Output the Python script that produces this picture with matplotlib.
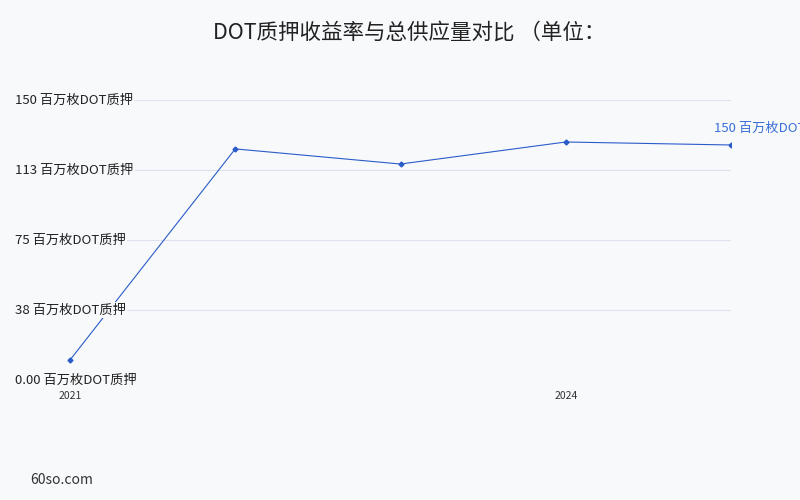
"""Recreate the DOT staking line chart."""

import matplotlib.pyplot as plt

plt.rcParams["font.family"] = ["Noto Sans CJK SC", "DejaVu Sans"]

YEARS = [2021, 2022, 2023, 2024, 2025]
STAKED = [10.7, 123.8, 115.7, 127.5, 125.9]
Y_TICKS = [0, 37.5, 75, 112.5, 150]
Y_LABELS = ["0.00 百万枚DOT质押", "38 百万枚DOT质押", "75 百万枚DOT质押",
            "113 百万枚DOT质押", "150 百万枚DOT质押"]
X_TICKS = [2021, 2024]
TITLE = "DOT质押收益率与总供应量对比 （单位："
END_LABEL = "150 百万枚DOT质押"

BG = "#f8f9fb"
LINE = "#2a5cc8"

fig = plt.figure(figsize=(8, 5), dpi=100, facecolor=BG)
ax = fig.add_axes([15 / 800, 120 / 500, 716 / 800, 280 / 500], facecolor=BG)

ax.plot(YEARS, STAKED, color=LINE, linewidth=0.8, marker="D", markersize=2.5)

ax.set_xlim(2021 - 55 / 165.25, 2025)
ax.set_ylim(0, 150)
for s in ax.spines.values():
    s.set_visible(False)

ax.set_yticks(Y_TICKS)
ax.set_yticklabels([])
ax.grid(axis="y", color="#dde3ee", linewidth=0.8)
ax.set_axisbelow(True)
ax.tick_params(axis="y", length=0)
for v, lab in zip(Y_TICKS, Y_LABELS):
    ax.text(0, v, lab, transform=ax.get_yaxis_transform(), ha="left", va="center",
            fontsize=9.5, color="#222222",
            bbox=dict(facecolor=BG, edgecolor="none", pad=1))

ax.set_xticks(X_TICKS)
ax.set_xticklabels([str(x) for x in X_TICKS], fontsize=7.5, color="#333333")
ax.tick_params(axis="x", length=0, pad=8)

# end label runs off the right edge, same as the source chart
ax.annotate(END_LABEL, xy=(YEARS[-1], STAKED[-1]), xytext=(-12, 12),
            textcoords="offset points", ha="left", va="center",
            fontsize=9.5, color="#3a6fd8", annotation_clip=False)

fig.text(409 / 800, 1 - 33 / 500, TITLE, ha="center", va="center",
         fontsize=15.5, color="#222222")
fig.text(30 / 800, 1 - 480 / 500, "60so.com", ha="left", va="center",
         fontsize=10, color="#333333")

fig.savefig("out.png", dpi=100, facecolor=BG)
